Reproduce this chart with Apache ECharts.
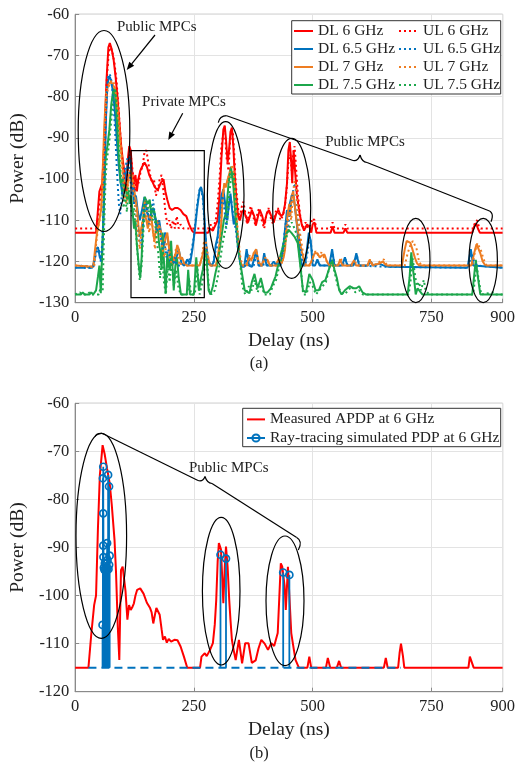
<!DOCTYPE html>
<html>
<head>
<meta charset="utf-8">
<script src="https://cdn.jsdelivr.net/npm/echarts@6.0.0/dist/echarts.min.js"></script>
<style>
  html, body { margin: 0; padding: 0; background: #fff; }
  #chart { width: 518px; height: 771px; }
</style>
</head>
<body>
<div id="chart"></div>
<script>
// ---------- axis ranges ----------
const delayRange = [0, 900];
const delayStep = 250;
const topPowerRange = [-130, -60];
const bottomPowerRange = [-120, -60];
const powerStep = 10;

// ---------- (a) DL / UL power delay profiles, [delay ns, power dB] ----------
const dl6 = [[0,-113],[44,-113],[47,-109],[51,-103],[57,-101],[62,-90],[66,-76],[70,-68],[73,-67],[77,-68.5],[81,-71],[85,-75],[89,-80],[93,-86],[97,-92],[101,-96],[105,-99],[108,-100],[111,-95],[114,-92],[117,-93],[120,-98],[123,-101],[127,-99],[130,-103],[133,-100],[137,-98],[141,-97],[146,-96],[151,-97],[156,-99],[162,-100.5],[168,-102],[174,-102.7],[180,-101],[186,-100],[190,-103],[194,-105],[199,-107],[204,-107.5],[210,-107],[216,-107],[222,-107.5],[228,-108.5],[234,-109],[240,-111],[246,-112.5],[250,-113],[280,-113],[284,-112],[290,-112.5],[296,-111],[300,-110],[304,-104],[308,-95],[312,-88],[315,-87],[318,-91],[321,-96],[324,-93],[327,-88.5],[330,-87.5],[333,-92],[336,-99],[339,-104],[343,-109],[347,-110],[351,-108],[355,-107.5],[359,-109],[364,-110.5],[368,-109],[372,-107.5],[377,-109],[381,-111],[385,-109],[389,-107.5],[394,-109],[398,-111],[403,-108.5],[408,-107.5],[413,-109],[418,-110.5],[423,-108.5],[428,-107.5],[433,-109],[438,-108.5],[442,-106],[446,-101],[449,-93],[452,-91],[455,-96],[457,-101],[460,-93],[463,-98],[467,-104],[472,-108],[477,-111],[482,-112.5],[488,-111],[493,-111.5],[497,-113],[500,-111],[504,-110.5],[508,-113],[538,-113],[542,-111.5],[546,-113],[565,-113],[569,-112],[573,-113],[836,-113],[840,-111.5],[844,-110.7],[848,-112],[852,-113],[900,-113]];
const ul6 = [[0,-112],[46,-112],[49,-108],[53,-104],[58,-102],[63,-88],[67,-75],[71,-69],[75,-68],[79,-69.5],[83,-72],[87,-76],[91,-82],[95,-89],[99,-95],[103,-100],[107,-103],[111,-97],[115,-94],[118,-95],[122,-99],[126,-103],[130,-100],[134,-101],[138,-98],[142,-97],[146,-93.5],[150,-93],[154,-96],[158,-99],[162,-101],[166,-100],[170,-104],[174,-103],[178,-100],[182,-99],[186,-103],[190,-108],[194,-111],[198,-110],[202,-112],[206,-110],[210,-112],[214,-109],[218,-112],[222,-111],[228,-112],[280,-112],[285,-111],[290,-112],[296,-110],[300,-106],[304,-100],[308,-92],[312,-89],[316,-90],[319,-95],[323,-98],[326,-91],[329,-89],[332,-88.5],[335,-94],[338,-101],[342,-106],[346,-110],[350,-107],[354,-105.5],[358,-108],[362,-111],[366,-108],[370,-106.5],[375,-109],[380,-111.5],[384,-108],[388,-107],[393,-110],[398,-112],[402,-109],[407,-107],[412,-109.5],[417,-111],[422,-108],[427,-107],[432,-110],[437,-109],[441,-107],[445,-103],[449,-96],[453,-94],[456,-98],[459,-94],[462,-92],[465,-97],[469,-104],[474,-109],[479,-112],[485,-110.5],[490,-112],[496,-111],[500,-109.5],[504,-110],[508,-112],[538,-112],[542,-110.5],[546,-112],[565,-112],[569,-111],[573,-112],[838,-112],[842,-110.5],[846,-110],[850,-111.5],[854,-112],[900,-112]];
const dl65 = [[0,-121.5],[20,-121.5],[24,-121],[28,-121.5],[36,-121.5],[40,-120],[44,-117],[48,-116.5],[52,-119],[56,-120],[59,-112],[62,-100],[65,-85],[68,-77],[71,-75],[74,-75.5],[77,-77],[80,-79],[84,-84],[88,-91],[92,-97],[96,-101],[100,-104],[104,-101],[108,-98],[112,-96],[115,-94.5],[118,-97],[121,-102],[124,-106],[128,-104],[132,-108],[136,-110],[140,-108],[146,-104.3],[151,-108],[157,-110],[163,-107],[168,-109],[172,-111],[177,-110],[184,-115.6],[189,-113],[194,-114],[201,-118],[206,-120.5],[211,-120],[218,-117],[224,-120.5],[230,-121],[236,-119.5],[242,-120.5],[247,-117],[252,-112.4],[257,-107],[262,-102.6],[265,-101.9],[269,-104],[272,-109],[276,-116],[280,-120],[288,-121],[292,-120],[296,-116],[300,-114],[304,-109],[308,-104],[312,-102.5],[316,-106],[320,-110],[324,-106],[327,-103.5],[330,-107],[334,-111],[338,-109],[342,-114],[346,-119],[350,-121.3],[356,-121.3],[361,-117],[366,-121],[372,-121.3],[378,-119],[381,-117],[386,-121],[394,-121],[398,-118],[403,-121],[412,-121],[418,-120],[424,-121],[432,-121],[438,-117],[442,-112],[446,-107.5],[449,-109],[452,-106],[456,-104],[459,-103.5],[462,-106],[466,-110],[470,-115],[474,-119],[478,-121],[484,-121],[488,-117],[492,-113],[496,-115],[500,-121],[505,-121],[510,-119.5],[515,-121],[535,-121],[541,-117],[546,-121],[562,-121],[568,-119],[573,-121],[586,-121],[592,-118],[598,-121],[616,-121],[622,-120],[628,-121],[640,-120.5],[650,-121],[660,-121.3],[826,-121.5],[833,-117],[838,-121],[900,-121.5]];
const ul65 = [[0,-121.5],[14,-121],[18,-121.5],[38,-121.5],[42,-119],[46,-117.5],[50,-117],[54,-120],[58,-114],[61,-102],[64,-88],[67,-78],[70,-75],[73,-74.5],[76,-76],[80,-80],[84,-88],[88,-98],[92,-106],[95,-108.5],[98,-104],[102,-99],[106,-97],[110,-95],[113,-96],[116,-100],[120,-104],[124,-102],[128,-108],[132,-112],[136,-115],[140,-116],[144,-110],[148,-105],[152,-107],[156,-111],[160,-108],[164,-105],[168,-109],[172,-113],[176,-110],[180,-114],[184,-117],[188,-115],[192,-119],[196,-117],[200,-120],[204,-121],[210,-119],[214,-121],[226,-121],[232,-120],[238,-121],[244,-118],[250,-114],[256,-107],[261,-103],[265,-102],[269,-105],[273,-112],[277,-118],[281,-121],[290,-121],[294,-118],[298,-117],[302,-112],[306,-107],[310,-104],[314,-107],[318,-112],[322,-108],[326,-104],[330,-106],[334,-110],[338,-112],[342,-116],[347,-120],[352,-121.5],[358,-121],[363,-118],[368,-121],[376,-121],[382,-118],[387,-121],[396,-121],[400,-119],[405,-121],[420,-121],[426,-120],[432,-121],[436,-119],[440,-114],[444,-110],[448,-112],[452,-108],[456,-105],[460,-102],[463,-101],[466,-104],[470,-110],[474,-116],[478,-120],[484,-121],[489,-118],[494,-114],[498,-117],[502,-121],[511,-120],[516,-121],[536,-121],[542,-118],[547,-121],[563,-121],[569,-119.5],[574,-121],[587,-121],[593,-118.5],[599,-121],[660,-121.3],[828,-121.5],[834,-118],[840,-120],[846,-121],[900,-121.5]];
const dl7 = [[0,-121],[38,-121.3],[42,-117],[46,-113],[51,-110],[55,-107],[58,-98],[61,-88],[65,-79],[70,-77],[75,-76.4],[79,-76.5],[82,-77.6],[86,-80],[89,-82.4],[92,-86],[95,-90.5],[99,-95],[102,-99.4],[106,-102],[109,-102.6],[112,-100],[116,-97.8],[119,-99],[123,-101],[126,-104],[130,-107],[133,-111],[136,-114],[140,-111.5],[146,-108.3],[150,-110],[153,-112],[157,-109],[160,-108.5],[164,-113],[167,-115],[171,-111],[174,-110],[180,-112.5],[184,-114],[187,-116.4],[191,-114],[194,-113],[199,-118],[204,-120.5],[208,-119],[211,-118.5],[215,-116],[218,-117],[222,-119.5],[225,-119],[230,-120.5],[236,-121],[262,-121],[268,-118.5],[272,-116.5],[276,-116.4],[280,-119],[284,-121],[296,-121],[300,-119],[304,-116],[308,-110],[311,-104],[314,-101],[317,-102],[320,-100.5],[323,-99.4],[327,-97.5],[330,-97.4],[333,-100],[337,-106],[340,-111],[343,-116],[347,-119.5],[351,-121],[360,-121],[366,-119],[371,-119.6],[376,-118],[381,-117],[386,-120],[392,-121],[398,-119.5],[405,-119.6],[410,-121],[422,-121],[428,-119.5],[434,-120.5],[439,-119],[442,-117],[445,-111],[448,-108],[451,-106],[453,-109],[456,-104],[459,-103],[462,-106],[466,-110],[471,-114],[476,-117],[480,-119],[484,-121],[492,-121],[498,-120],[504,-118],[510,-118],[515,-119],[520,-118.5],[525,-118.3],[530,-120],[535,-121],[553,-121],[558,-119.6],[563,-121],[580,-121],[586,-120],[592,-121],[615,-121],[620,-119.6],[626,-121],[640,-120.5],[648,-120],[655,-121],[688,-121],[694,-117],[698,-115],[702,-114.8],[706,-115.5],[710,-117],[715,-119],[720,-120.5],[725,-121],[834,-121],[840,-118],[845,-115.8],[849,-116],[853,-118],[858,-120],[864,-121],[900,-121]];
const ul7 = [[0,-121],[40,-121.3],[44,-116],[48,-112],[53,-109],[57,-105],[60,-95],[63,-85],[67,-79],[72,-77],[77,-76],[81,-76.5],[84,-78],[88,-81],[92,-86],[96,-93],[100,-99],[104,-104],[108,-106],[112,-101],[116,-98],[120,-100],[124,-104],[128,-108],[132,-113],[136,-117],[140,-112],[144,-107],[148,-105],[152,-110],[156,-113],[160,-110],[164,-112],[168,-117],[172,-113],[176,-111],[180,-114],[184,-117],[188,-119],[192,-116],[196,-115],[200,-119],[204,-121],[208,-120],[212,-117],[216,-118],[220,-121],[226,-120],[232,-121],[262,-121],[267,-119],[271,-115.5],[275,-115],[279,-118],[283,-121],[297,-121],[302,-118],[306,-113],[309,-107],[312,-103],[316,-102],[320,-101],[324,-99],[328,-98],[331,-96.5],[334,-98],[337,-103],[340,-109],[344,-115],[348,-119],[352,-121],[362,-121],[367,-118.5],[372,-120],[377,-117.5],[382,-118],[387,-121],[394,-121],[400,-119],[406,-120],[411,-121],[424,-121],[430,-119],[436,-120.5],[440,-118],[444,-114],[448,-110],[452,-108],[455,-110],[458,-104],[462,-100.5],[465,-101.5],[468,-106],[472,-112],[477,-116],[482,-119.5],[486,-121],[494,-121],[500,-119],[506,-117.5],[512,-118.5],[518,-117.8],[524,-119],[530,-120],[536,-121],[554,-121],[559,-119],[564,-121],[582,-121],[588,-119.5],[593,-121],[616,-121],[621,-119.5],[627,-121],[642,-120],[650,-119.5],[657,-121],[694,-121],[700,-118],[706,-116],[711,-115],[715,-115.2],[719,-117],[724,-120],[729,-121],[836,-121],[842,-117.5],[847,-115.5],[851,-115.8],[855,-117.5],[860,-119.5],[866,-121],[900,-121]];
const dl75 = [[0,-128],[12,-128],[16,-127.5],[20,-128],[30,-128],[34,-127.5],[38,-128],[44,-127],[48,-123.7],[51,-121],[54,-127.7],[58,-127.7],[60,-107],[62,-98],[65,-94],[68,-92],[72,-88],[76,-82],[80,-78.5],[83,-78],[86,-82],[89,-88],[92,-95],[96,-101],[100,-100],[103,-103],[106,-101],[109,-105],[112,-103],[115,-106],[118,-104],[121,-108],[124,-112],[127,-110],[130,-116],[134,-121],[137,-124],[140,-119],[143,-110],[146.5,-104.3],[150,-104],[153,-106],[157,-105],[160,-108.5],[164,-107],[167,-108],[171,-111],[174,-112],[177,-116],[180,-118],[182,-122],[184,-113],[187,-120],[190.6,-127.8],[194,-118],[197,-121],[199.5,-122],[202,-115],[207.6,-127],[211,-121],[214.5,-119],[218,-124],[222.7,-128],[235,-128],[238,-122],[241.7,-128],[250,-128],[255,-119],[260.6,-127],[265,-124],[268.8,-122],[272,-119],[275.6,-117.2],[281,-127],[285,-128],[290,-126],[295,-123],[299,-121],[303,-118],[308,-114],[313,-110],[318,-108],[323,-101],[328,-97],[333,-101.5],[338,-110],[343,-117],[350,-122],[357,-127],[367,-127.7],[372,-125],[377.6,-123],[384,-126.5],[391,-124],[398,-127.5],[405,-127.5],[412,-126.5],[417,-125],[422,-123.6],[429,-120],[435.7,-117],[442,-114],[449,-112.3],[455,-113],[462,-114],[468.6,-115.5],[475,-122],[479.6,-127],[486,-127.5],[493,-123],[500,-124.5],[506,-127],[513,-127],[520,-125],[527,-124.5],[534,-122],[541,-119.6],[546,-122],[551,-124],[556,-127],[561,-128],[568,-127],[578,-126],[586,-126.5],[592,-126.5],[598,-126],[605,-127.5],[612,-128],[700,-128],[704,-124],[707.7,-117.8],[711,-121.5],[717,-128],[721,-126.5],[724,-126.3],[731,-128],[836,-128],[840,-123.5],[843.5,-119.6],[847,-123],[853,-128],[900,-128]];
const ul75 = [[0,-128],[10,-127.5],[14,-128],[26,-128],[30,-127.5],[34,-128],[50,-128],[54,-126],[58,-127],[61,-112],[64,-100],[67,-95],[71,-92],[75,-87],[79,-82],[82,-79],[85,-78.5],[88,-83],[91,-90],[95,-97],[99,-103],[102,-107],[105,-104],[109,-108],[112,-102],[116,-105],[120,-109],[124,-107],[128,-113],[132,-119],[136,-124.5],[140,-121],[144,-112],[148,-106],[151,-105],[155,-108],[159,-106],[163,-110],[167,-109],[171,-114],[175,-118],[179,-124],[183,-118],[187,-125],[191,-128],[195,-121],[199,-125],[203,-119],[208,-126],[213,-122],[217,-126],[222,-128],[236,-128],[240,-124],[244,-128],[252,-128],[257,-121],[262,-128],[268,-125],[273,-121],[277,-119],[282,-127],[287,-128],[294,-127],[300,-124],[305,-120],[310,-116],[315,-113],[320,-110],[325,-103],[330,-98],[334,-99],[338,-106],[342,-114],[347,-120],[352,-126],[358,-128],[366,-126],[372,-127],[378,-124.5],[384,-127.5],[392,-125.5],[398,-128],[410,-128],[416,-126],[423,-124.5],[430,-121],[437,-118],[443,-115],[450,-112],[456,-110.5],[462,-112],[468,-114],[474,-120],[480,-128],[487,-128],[494,-125],[500,-126],[507,-128],[514,-127],[521,-126],[528,-125],[535,-121.5],[541,-120],[547,-123],[553,-126],[560,-127.5],[567,-128],[575,-127],[582,-126],[590,-127.5],[598,-127],[606,-128],[702,-128],[706,-125],[710,-119],[714,-122],[719,-126],[724,-125],[728,-127],[734,-124.5],[738,-127],[745,-128],[838,-128],[842,-124],[845,-120.5],[849,-124],[855,-128],[880,-127.5],[884,-128],[900,-128]];

// ---------- (b) measured APDP and ray-tracing PDP at 6 GHz ----------
const apdp6 = [[0,-115],[28,-115],[34,-108],[40,-102],[44,-100],[48,-86],[52,-75],[57.8,-68.7],[62,-70.5],[67,-73.5],[72.7,-76.6],[77,-81],[82.9,-88.4],[86,-95],[89.8,-106.5],[93,-113.4],[96.5,-94.7],[100,-94],[103,-93.6],[106,-99],[110,-105],[113.5,-102],[117,-103],[120,-102.5],[123.7,-101.6],[127,-100],[130.6,-98.8],[137,-98.5],[144,-99.6],[151,-101.5],[157.8,-102.6],[161,-103.5],[164.5,-105.8],[168,-104],[171,-102.6],[175,-103],[178,-104],[182,-107],[185,-109.2],[189,-108.5],[193,-109.8],[197,-109],[202,-109.6],[209,-109.2],[215.5,-109.3],[222,-110.6],[229,-112.7],[236,-115],[263,-115],[266,-112.7],[270,-113],[273,-112],[277,-112.6],[284,-111.3],[290,-109.9],[294,-106],[297,-101],[300,-93],[302.6,-89.1],[307,-90.4],[309.5,-96],[312,-101.6],[315,-94],[317.6,-89.8],[321,-94],[324.4,-100.9],[327,-105],[330,-109.2],[334,-111.5],[338,-113.4],[344.8,-109.2],[351.5,-114.1],[358,-109.9],[365,-109.9],[372,-114],[380,-113.5],[386,-111],[392,-109.2],[399,-110],[406,-111.3],[413,-109.9],[419,-110.5],[426.5,-107.8],[430,-100],[433,-93.3],[436,-94],[439,-94],[441,-98],[443.5,-103],[446,-98],[448,-94],[451,-100],[455,-107.8],[460,-111],[464,-113.4],[471,-115],[489,-115],[493,-112.7],[497,-115],[528,-115],[532,-113],[537,-115],[551,-115],[555.7,-113.6],[560,-115],[650,-115],[654,-113],[658,-115],[680,-115],[683,-112],[686,-110],[690,-112.5],[693,-115],[828,-115],[831,-112.7],[835,-112.7],[839,-115],[900,-115]];
const rtPdp6 = [[57.7,-106.1],[58.5,-75.6],[59.2,-73.2],[59.2,-82.9],[59.2,-89.6],[59.6,-92.0],[60.5,-94.2],[61.5,-94.6],[62.5,-93.3],[63.5,-94.8],[64.5,-94.4],[65.5,-93.2],[66.5,-94.6],[67.3,-89.1],[68.2,-92.6],[69.4,-74.9],[70.2,-94.5],[71.4,-77.3],[71.6,-93.6],[72.6,-91.7],[306,-91.5],[317.6,-92.3],[438,-95.2],[451,-95.7]];
const rtFloor = -115;
const rtFloorSpan = [28, 686];

// ---------- names ----------
const dlNames = ['DL 6 GHz', 'DL 6.5 GHz', 'DL 7 GHz', 'DL 7.5 GHz'];
const ulNames = ['UL 6 GHz', 'UL 6.5 GHz', 'UL 7 GHz', 'UL 7.5 GHz'];
const apdpName = 'Measured APDP at 6 GHz';
const rtName = 'Ray-tracing simulated PDP at 6 GHz';

// ---------- styling ----------
const FONT = 'Liberation Serif';
const RED = '#FF0000', BLUE = '#0072BD', ORANGE = '#EE7D22', GREEN = '#1CA64B';
const bandColors = [RED, BLUE, ORANGE, GREEN];
const INK = '#222';

function lineSeries(name, data, color, dotted, axis) {
  return {
    type: 'line', name, data,
    xAxisIndex: axis, yAxisIndex: axis,
    symbol: 'none', animation: false,
    lineStyle: { color, width: 2, type: dotted ? [2, 3] : 'solid' },
    itemStyle: { color },
    z: 2
  };
}

function valueAxis(gridIndex, range, step, name, gap) {
  return {
    type: 'value', gridIndex, min: range[0], max: range[1], interval: step,
    name, nameLocation: 'middle', nameGap: gap,
    nameTextStyle: { fontFamily: FONT, fontSize: 19.5, color: INK },
    axisLine: { show: true, lineStyle: { color: '#8a8a8a', width: 1 } },
    axisTick: { show: true, inside: true, length: 4, lineStyle: { color: '#8a8a8a' } },
    axisLabel: { fontFamily: FONT, fontSize: 16.5, color: INK, margin: 6 },
    splitLine: { show: true, lineStyle: { color: '#e3e3e3', width: 1 } }
  };
}

// ---------- annotation helpers ----------
const stroke = { stroke: '#000', lineWidth: 1.2 };
function ellipse(cx, cy, rx, ry) {
  return { type: 'ellipse', shape: { cx, cy, rx, ry }, style: { ...stroke, fill: 'none' }, z: 20, silent: true };
}
function seg(x1, y1, x2, y2) {
  return { type: 'line', shape: { x1, y1, x2, y2 }, style: stroke, z: 20, silent: true };
}
function curl(x1, y1, cpx1, cpy1, x2, y2) {
  return { type: 'bezierCurve', shape: { x1, y1, cpx1, cpy1, x2, y2 }, style: { ...stroke, fill: 'none' }, z: 20, silent: true };
}
function arrow(x1, y1, x2, y2) {
  const dx = x2 - x1, dy = y2 - y1, L = Math.hypot(dx, dy), ux = dx / L, uy = dy / L;
  const hl = 8, hw = 3.2, bx = x2 - ux * hl, by = y2 - uy * hl;
  return [
    seg(x1, y1, bx, by),
    { type: 'polygon', shape: { points: [[x2, y2], [bx - uy * hw, by + ux * hw], [bx + uy * hw, by - ux * hw]] },
      style: { fill: '#000' }, z: 20, silent: true }
  ];
}
function label(text, x, y, size) {
  return { type: 'text', x, y, style: { text, fontFamily: FONT, fontSize: size, fill: INK, align: 'center', verticalAlign: 'middle' }, z: 20, silent: true };
}

const annotations = [
  // legend frames
  { type: 'rect', shape: { x: 291.7, y: 20.7, width: 209, height: 73.3 }, style: { fill: '#fff', stroke: '#333', lineWidth: 1 }, z: 3, silent: true },
  { type: 'rect', shape: { x: 242.7, y: 408.3, width: 258, height: 38.4 }, style: { fill: '#fff', stroke: '#333', lineWidth: 1 }, z: 3, silent: true },
  // (a) direct path cluster
  ellipse(104, 131, 25.8, 100.5),
  label('Public MPCs', 156.7, 26.7, 15),
  ...arrow(155, 35, 126.7, 70),
  // (a) private MPC window
  { type: 'rect', shape: { x: 131, y: 150.7, width: 73.3, height: 147 }, style: { ...stroke, fill: 'none' }, z: 20, silent: true },
  label('Private MPCs', 184, 101.7, 15),
  ...arrow(182.7, 113.3, 168.3, 140),
  // (a) later public clusters
  ellipse(225.7, 195, 18.3, 73.3),
  ellipse(291.7, 208.3, 19, 70),
  ellipse(415.8, 260.5, 14.2, 42.2),
  ellipse(483.2, 260.5, 14.2, 42.2),
  curl(218.3, 122.7, 219.5, 116, 226.7, 115.7),
  seg(226.7, 115.7, 353, 160.5),
  curl(353, 160.5, 358, 161.5, 360, 155),
  curl(360, 155, 362, 162, 367, 162.5),
  seg(367, 162.5, 487, 210),
  curl(487, 210, 495, 212, 491, 221.7),
  label('Public MPCs', 365, 141.7, 15),
  // (b) clusters
  ellipse(101.3, 535.8, 25.3, 102.5),
  ellipse(221.2, 591.2, 18.8, 73.8),
  ellipse(285, 600.8, 19, 64.8),
  curl(95, 436.7, 96, 433, 102, 433.3),
  seg(102, 433.3, 198, 480.5),
  curl(198, 480.5, 203, 482, 205, 476.5),
  curl(205, 476.5, 207, 483, 212, 483.5),
  seg(212, 483.5, 296.7, 537.5),
  curl(296.7, 537.5, 303, 541, 298.3, 550),
  label('Public MPCs', 228.7, 468.3, 15),
  // captions
  label('(a)', 259, 364, 16.5),
  label('(b)', 259, 754, 16.5)
];

// ---------- chart ----------
const chart = echarts.init(document.getElementById('chart'), null, { renderer: 'canvas' });

const topSeries = [
  ...[dl6, dl65, dl7, dl75].map((d, i) => lineSeries(dlNames[i], d, bandColors[i], false, 0)),
  ...[ul6, ul65, ul7, ul75].map((d, i) => lineSeries(ulNames[i], d, bandColors[i], true, 0))
];

const bottomSeries = [
  lineSeries(apdpName, apdp6, RED, false, 1),
  {
    type: 'line', name: 'floor', xAxisIndex: 1, yAxisIndex: 1, symbol: 'none', animation: false,
    data: [[rtFloorSpan[0], rtFloor], [rtFloorSpan[1], rtFloor]],
    lineStyle: { color: BLUE, width: 2, type: [8, 5] }, z: 3
  },
  {
    type: 'custom', name: 'stems', xAxisIndex: 1, yAxisIndex: 1, data: rtPdp6, animation: false,
    encode: { x: 0, y: 1 },
    renderItem: function (params, api) {
      const top = api.coord([api.value(0), api.value(1)]);
      const base = api.coord([api.value(0), rtFloor]);
      return { type: 'line', shape: { x1: base[0], y1: base[1], x2: top[0], y2: top[1] },
               style: { stroke: BLUE, lineWidth: 1.8 } };
    },
    z: 4
  },
  {
    type: 'line', name: rtName, xAxisIndex: 1, yAxisIndex: 1, data: rtPdp6, animation: false,
    symbol: 'circle', symbolSize: 7, showSymbol: true, showAllSymbol: true,
    itemStyle: { color: 'rgba(255,255,255,0)', borderColor: BLUE, borderWidth: 1.7 },
    lineStyle: { color: BLUE, width: 2, opacity: 0 },
    z: 5
  }
];

const legendText = { fontFamily: FONT, fontSize: 15.5, color: INK };
const noMarker = { opacity: 0 };

chart.setOption({
  backgroundColor: '#fff',
  animation: false,
  grid: [
    { left: 66.5, top: 14.3, width: 440.5, height: 288.4, show: true, borderColor: '#8a8a8a', borderWidth: 1, backgroundColor: 'transparent' },
    { left: 67.7, top: 403.3, width: 439.3, height: 288.4, show: true, borderColor: '#8a8a8a', borderWidth: 1, backgroundColor: 'transparent' }
  ],
  xAxis: [
    valueAxis(0, delayRange, delayStep, 'Delay (ns)', 28),
    valueAxis(1, delayRange, delayStep, 'Delay (ns)', 28)
  ],
  yAxis: [
    valueAxis(0, topPowerRange, powerStep, 'Power (dB)', 37),
    valueAxis(1, bottomPowerRange, powerStep, 'Power (dB)', 37)
  ],
  legend: [
    { orient: 'vertical', left: 293, top: 23, padding: 0, itemWidth: 19, itemHeight: 14, itemGap: 2,
      data: dlNames.map(name => ({ name, itemStyle: noMarker })), textStyle: legendText, selectedMode: false, z: 5 },
    { orient: 'vertical', left: 398, top: 23, padding: 0, itemWidth: 19, itemHeight: 14, itemGap: 2,
      data: ulNames.map(name => ({ name, itemStyle: noMarker })), textStyle: legendText, selectedMode: false, z: 5 },
    { orient: 'vertical', left: 246, top: 411.4, padding: 0, itemWidth: 18, itemHeight: 9, itemGap: 2.6,
      data: [{ name: apdpName, itemStyle: noMarker }, { name: rtName, itemStyle: { opacity: 1 }, lineStyle: { opacity: 1 } }],
      textStyle: legendText, selectedMode: false, z: 5 }
  ],
  series: [...topSeries, ...bottomSeries],
  graphic: { elements: annotations }
});
</script>
</body>
</html>
